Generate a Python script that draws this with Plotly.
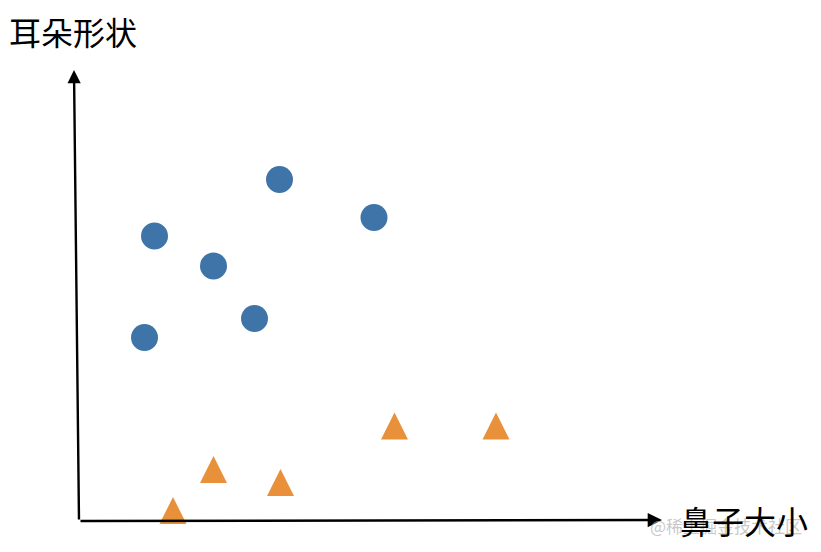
import plotly.graph_objects as go

# Data (abstract units: nose size on x, ear shape on y)
circle_x = [1.53, 4.03, 5.92, 2.71, 3.53, 1.33]
circle_y = [5.68, 6.81, 6.05, 5.08, 4.03, 3.65]

# triangle values (apex of each triangle marker)
tri_x = [1.90, 2.71, 4.05, 6.33, 8.36]
tri_y = [0.46, 1.28, 1.02, 2.15, 2.15]

x_label = "鼻子大小"
y_label = "耳朵形状"
watermark = "@稀土掘金技术社区"

W, H = 821, 552
X0, Y0, S = 78, 520, 50  # origin pixel & scale for axis ranges

x_range = [-X0 / S, (W - X0) / S]
y_range = [-(H - Y0) / S, Y0 / S]

fig = go.Figure()
fig.add_trace(go.Scatter(
    x=circle_x, y=circle_y, mode="markers",
    marker=dict(symbol="circle", size=27, color="#3F74A9", line=dict(width=0)),
    showlegend=False, hoverinfo="skip"))
fig.add_trace(go.Scatter(
    x=tri_x, y=tri_y, mode="markers",
    marker=dict(symbol="arrow-up", size=27, color="#E8913A", line=dict(width=0)),
    showlegend=False, hoverinfo="skip"))

font_cjk = "Noto Sans CJK SC, Noto Sans, sans-serif"

# axis arrows
fig.add_annotation(x=-0.08, y=9.0, ax=0.02, ay=-0.02, xref="x", yref="y",
                   axref="x", ayref="y", showarrow=True, arrowhead=2,
                   arrowsize=1.1, arrowwidth=2.4, arrowcolor="black", text="")
fig.add_annotation(x=11.68, y=0.0, ax=0.02, ay=-0.02, xref="x", yref="y",
                   axref="x", ayref="y", showarrow=True, arrowhead=2,
                   arrowsize=1.1, arrowwidth=2.6, arrowcolor="black", text="")

# watermark
fig.add_annotation(x=648 / W, y=1 - 525 / H, xref="paper", yref="paper",
                   xanchor="left", yanchor="middle", text=watermark, showarrow=False,
                   font=dict(family=font_cjk, size=17, color="rgba(175,175,175,0.7)"))
# axis labels
fig.add_annotation(x=7 / W, y=1 - 31 / H, xref="paper", yref="paper",
                   xanchor="left", yanchor="middle", text=y_label, showarrow=False,
                   font=dict(family=font_cjk, size=32, color="black"))
fig.add_annotation(x=678 / W, y=1 - 520 / H, xref="paper", yref="paper",
                   xanchor="left", yanchor="middle", text=x_label, showarrow=False,
                   font=dict(family=font_cjk, size=32, color="black"))

fig.update_layout(
    width=W, height=H, margin=dict(l=0, r=0, t=0, b=0),
    paper_bgcolor="white", plot_bgcolor="white",
    xaxis=dict(range=x_range, visible=False, showgrid=False, zeroline=False),
    yaxis=dict(range=y_range, visible=False, showgrid=False, zeroline=False),
)

fig.write_html("out.html", config={"displayModeBar": False},
               post_script="document.body.style.margin='0';")
